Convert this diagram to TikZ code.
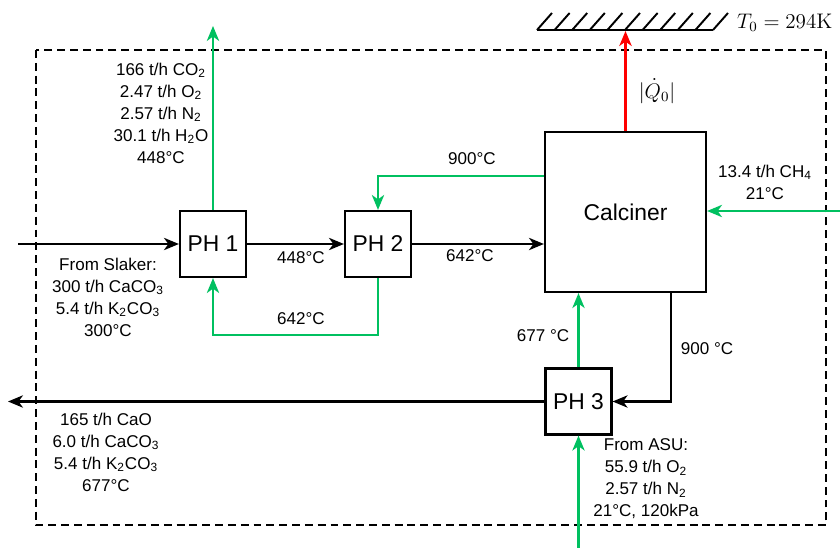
\documentclass[tikz,border=0pt]{standalone}
\usepackage[no-math]{fontspec}
\setmainfont{Liberation Sans}
\usetikzlibrary{arrows.meta}

\definecolor{gasgreen}{RGB}{0,192,96}

\begin{document}
\begin{tikzpicture}[x=0.02cm, y=-0.02cm,
    unit/.style={draw, line width=1.25pt, minimum width=1.32cm, minimum height=1.32cm, inner sep=0pt, font=\fontsize{13}{15}\selectfont},
    info/.style={align=center, inner sep=0pt, font=\fontsize{9.7}{12.5}\selectfont},
    stream/.style={line width=1.25pt, -{Stealth[length=8.5pt, width=7pt, inset=2.5pt]}},
    gasstream/.style={stream, draw=gasgreen},
    heatstream/.style={stream, line width=1.5pt, draw=red}]

    \useasboundingbox (0,0) rectangle (840,548);

    % system boundary
    \draw [line width=1pt, dash pattern=on 4.5pt off 2.8pt] (36,50) rectangle (826,525);

    % units
    \node [unit] (ph1) at (213,244) {PH 1};
    \node [unit] (ph2) at (378,244) {PH 2};
    \node [unit, minimum width=3.22cm, minimum height=3.2cm] (calc) at (625.5,212) {Calciner};
    \node [unit] (ph3) at (578.5,401.5) {PH 3};

    % stream ends
    \coordinate (slakerin) at (18,244);
    \coordinate (co2out) at (213,26);
    \coordinate (limeout) at (8,401.5);
    \coordinate (asuin) at (578.5,548);
    \coordinate (fuelin) at (840,211);
    \coordinate (amb) at (625.5,31);

    % ambient
    \draw [line width=1.6pt] (537,30) -- (713,30);
    \foreach \k in {0,...,10}
        \draw [line width=1.1pt] (537+17.6*\k,30) -- ++(15,-17);
    \node [right, font=\fontsize{12}{14}\selectfont] at (731,23) {$T_0 = 294\mathrm{K}$};

    % solids
    \draw [stream] (slakerin) -- (ph1);
    \draw [stream] (ph1) -- (ph2);
    \draw [stream] (ph2.east) -- (ph2.east -| calc.west);
    \draw [stream] ([xshift=0.91cm]calc.south) |- (ph3.east);
    \draw [stream] (ph3) -- (limeout);

    % gases
    \draw [gasstream] (ph1) -- (co2out);
    \draw [gasstream] ([yshift=0.72cm]calc.west) -| (ph2.north);
    \draw [gasstream] (ph2.south) -- ++(0,57) -| (ph1.south);
    \draw [gasstream] (asuin) -- (ph3);
    \draw [gasstream] (ph3) -- (ph3 |- calc.south);
    \draw [gasstream] (fuelin) -- (fuelin -| calc.east);

    % heat
    \draw [heatstream] (calc) -- (amb);
    \node [font=\fontsize{12}{14}\selectfont] at (657,91) {$|\dot{Q}_0|$};

    % labels
    \node [info] at (161,113) {166 t/h CO\textsubscript{2}\\2.47 t/h O\textsubscript{2}\\2.57 t/h N\textsubscript{2}\\30.1 t/h H\textsubscript{2}O\\448°C};
    \node [info] at (108,297) {From Slaker:\\300 t/h CaCO\textsubscript{3}\\5.4 t/h K\textsubscript{2}CO\textsubscript{3}\\300°C};
    \node [info] at (106,452) {165 t/h CaO\\6.0 t/h CaCO\textsubscript{3}\\5.4 t/h K\textsubscript{2}CO\textsubscript{3}\\677°C};
    \node [info] at (646,479) {From ASU:\\55.9 t/h O\textsubscript{2}\\2.57 t/h N\textsubscript{2}\\21°C, 120kPa};
    \node [info] at (765,182) {13.4 t/h CH\textsubscript{4}\\21°C};
    \node [info] at (472,159) {900°C};
    \node [info] at (470,256) {642°C};
    \node [info] at (301,258) {448°C};
    \node [info] at (301,319) {642°C};
    \node [info] at (543,336) {677 °C};
    \node [info] at (707,349) {900 °C};

\end{tikzpicture}
\end{document}
